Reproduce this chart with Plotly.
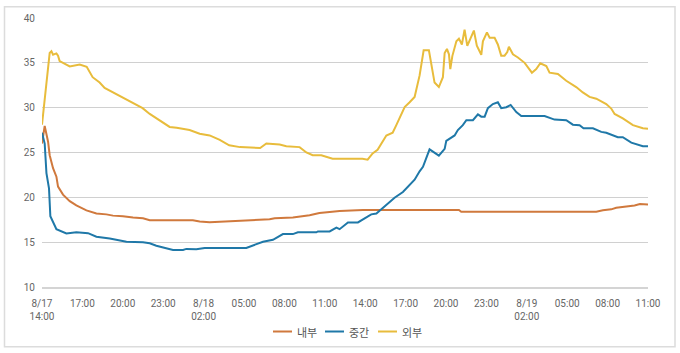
import plotly.graph_objects as go
import pandas as pd

# hours elapsed since 8/17 14:00
inner_h = [0, 0.2, 0.45, 0.57, 0.82, 1.07, 1.19, 1.56, 2.06, 2.55, 3.3, 4.04, 4.78, 5.27, 6.01, 6.76, 7.5, 8.0,
           11.2, 11.71, 12.45, 13.69, 15.17, 16.9, 17.28, 18.63, 19.87, 20.6, 21.36, 22.1, 23.83, 30.96, 31.13,
           41.16, 41.65, 42.27, 42.64, 43.38, 44.0, 44.4, 45]
inner_v = [26.0, 27.97, 26.2, 24.7, 23.25, 22.3, 21.2, 20.3, 19.58, 19.1, 18.55, 18.2, 18.1, 17.96, 17.9, 17.74,
           17.67, 17.45, 17.45, 17.3, 17.22, 17.3, 17.45, 17.55, 17.67, 17.74, 18.0, 18.25, 18.37, 18.48, 18.6,
           18.6, 18.4, 18.4, 18.55, 18.66, 18.84, 18.96, 19.1, 19.25, 19.2]

mid_h = [0, 0.2, 0.33, 0.52, 0.62, 1.07, 1.81, 2.55, 3.42, 4.04, 5.03, 6.01, 6.27, 7.5, 8.0, 8.49, 9.73, 10.47,
         10.72, 11.46, 12.08, 15.17, 15.66, 16.41, 17.15, 17.89, 18.63, 19.0, 20.37, 20.49, 21.36, 21.86, 22.1,
         22.72, 23.46, 24.08, 24.45, 24.83, 25.2, 25.57, 26.18, 26.8, 27.42, 27.67, 28.04, 28.29, 28.78, 29.47,
         29.9, 30.02, 30.64, 30.88, 31.25, 31.51, 32.0, 32.37, 32.62, 32.87, 33.11, 33.48, 33.85, 34.1, 34.48,
         34.8, 35.22, 35.59, 37.32, 38.06, 38.93, 39.42, 39.92, 40.21, 40.91, 41.53, 41.9, 42.76, 43.13, 43.76,
         44.62, 45]
mid_v = [27.2, 26.0, 22.7, 21.0, 17.9, 16.45, 15.97, 16.1, 16.0, 15.6, 15.42, 15.17, 15.05, 14.98, 14.87, 14.6,
         14.13, 14.13, 14.25, 14.2, 14.36, 14.36, 14.6, 15.05, 15.27, 15.9, 15.9, 16.1, 16.1, 16.2, 16.2, 16.63,
         16.45, 17.2, 17.2, 17.75, 18.1, 18.2, 18.66, 19.2, 19.95, 20.6, 21.5, 21.97, 22.9, 23.4, 25.35, 24.65,
         25.4, 26.3, 26.9, 27.5, 28.05, 28.6, 28.6, 29.25, 29.0, 29.0, 29.95, 30.4, 30.6, 29.95, 30.05, 30.3,
         29.5, 29.07, 29.07, 28.67, 28.6, 28.1, 28.05, 27.7, 27.7, 27.3, 27.2, 26.7, 26.7, 26.1, 25.7, 25.7]

out_h = [0, 0.57, 0.70, 0.82, 1.07, 1.19, 1.31, 2.06, 2.80, 3.32, 3.76, 4.28, 4.65, 5.40, 6.14, 6.88, 7.47, 8.0,
         8.74, 9.48, 10.0, 10.96, 11.71, 12.45, 13.2, 13.9, 14.7, 16.2, 16.66, 17.65, 18.14, 19.13, 19.63, 20.1,
         20.74, 21.58, 23.8, 24.18, 24.55, 24.92, 25.57, 25.81, 26.04, 26.31, 26.93, 27.3, 27.67, 28.04, 28.34,
         28.73, 28.91, 29.15, 29.47, 29.77, 29.9, 30.07, 30.22, 30.32, 30.47, 30.77, 30.96, 31.18, 31.38, 31.58,
         32.07, 32.29, 32.62, 32.74, 33.04, 33.24, 33.61, 33.85, 34.1, 34.35, 34.55, 34.67, 34.97, 35.34, 35.84,
         36.38, 36.7, 37.0, 37.45, 37.69, 38.31, 38.93, 39.67, 40.16, 40.66, 41.16, 41.9, 42.27, 42.52, 43.13,
         43.88, 44.62, 45]
out_v = [28.1, 36.1, 36.3, 35.9, 36.05, 35.8, 35.2, 34.6, 34.8, 34.55, 33.4, 32.8, 32.2, 31.6, 31.05, 30.5, 29.95,
         29.3, 28.6, 27.85, 27.75, 27.5, 27.1, 26.9, 26.4, 25.8, 25.6, 25.5, 26.0, 25.9, 25.7, 25.6, 25.0, 24.7,
         24.7, 24.3, 24.3, 24.2, 24.9, 25.3, 26.9, 27.1, 27.2, 28.05, 30.07, 30.6, 31.2, 33.6, 36.4, 36.4, 34.85,
         32.8, 32.3, 33.4, 36.1, 36.55, 35.95, 34.3, 35.75, 37.4, 37.7, 37.05, 38.7, 36.9, 38.6, 36.9, 35.9, 37.4,
         38.4, 37.8, 37.8, 37.05, 35.8, 35.8, 36.2, 36.8, 35.95, 35.6, 35.0, 33.9, 34.3, 34.95, 34.65, 33.9,
         33.75, 33.0, 32.3, 31.7, 31.2, 31.0, 30.4, 29.9, 29.3, 28.8, 28.05, 27.7, 27.65]

series_names = ["내부", "중간", "외부"]
series_colors = ["#d0793d", "#1f78a8", "#e8bc3c"]

tick_hours = list(range(0, 46, 3))
tick_labels = ["8/17<br>14:00", "17:00", "20:00", "23:00", "8/18<br>02:00", "05:00", "08:00", "11:00",
               "14:00", "17:00", "20:00", "23:00", "8/19<br>02:00", "05:00", "08:00", "11:00"]
y_ticks = [10, 15, 20, 25, 30, 35, 40]

base = pd.Timestamp("2023-08-17 14:00")
def to_time(hours):
    return [base + pd.Timedelta(hours=h) for h in hours]

fig = go.Figure()
for name, color, hs, vs in zip(series_names, series_colors,
                               [inner_h, mid_h, out_h], [inner_v, mid_v, out_v]):
    fig.add_trace(go.Scatter(x=to_time(hs), y=vs, mode="lines", name=name,
                             line=dict(color=color, width=2), showlegend=False))

W, H = 680, 353
ml, mr, mt, mb = 42, 32, 15, 66
pw, ph = W - ml - mr, H - mt - mb

def px_x(p):
    return (p - ml) / pw
def px_y(p):
    return (H - mb - p) / ph

shapes = [dict(type="rect", xref="paper", yref="paper",
               x0=px_x(4.5), x1=px_x(675), y0=px_y(347.5), y1=px_y(3.5),
               line=dict(color="#dcdcdc", width=1.5), fillcolor="rgba(0,0,0,0)", layer="below")]
annotations = []
legend_x = [273, 325, 378]
for name, color, lx in zip(series_names, series_colors, legend_x):
    shapes.append(dict(type="line", xref="paper", yref="paper",
                       x0=px_x(lx), x1=px_x(lx + 19), y0=px_y(332), y1=px_y(332),
                       line=dict(color=color, width=2)))
    annotations.append(dict(xref="paper", yref="paper", x=px_x(lx + 22), y=px_y(332),
                            xanchor="left", yanchor="middle", text=name, showarrow=False,
                            font=dict(size=11, color="#555", family="Noto Sans CJK KR, sans-serif")))

fig.update_layout(
    width=W, height=H,
    margin=dict(l=ml, r=mr, t=mt, b=mb),
    paper_bgcolor="white", plot_bgcolor="white",
    font=dict(family="Roboto, Noto Sans CJK KR, sans-serif", size=10, color="#666"),
    showlegend=False,
    xaxis=dict(range=[base, base + pd.Timedelta(hours=45)],
               tickvals=to_time(tick_hours), ticktext=tick_labels,
               showgrid=False, zeroline=False, showline=True, linecolor="#d4d4d4", linewidth=2,
               ticks="", ticklabelstandoff=6, tickfont=dict(size=10, color="#666")),
    yaxis=dict(range=[10, 40], tickvals=y_ticks, showgrid=True, gridcolor="#d0d0d0", gridwidth=1,
               zeroline=False, showline=False, ticks="", ticklabelstandoff=6,
               tickfont=dict(size=10, color="#666")),
    shapes=shapes,
    annotations=annotations,
)

fig.write_html("out.html")
